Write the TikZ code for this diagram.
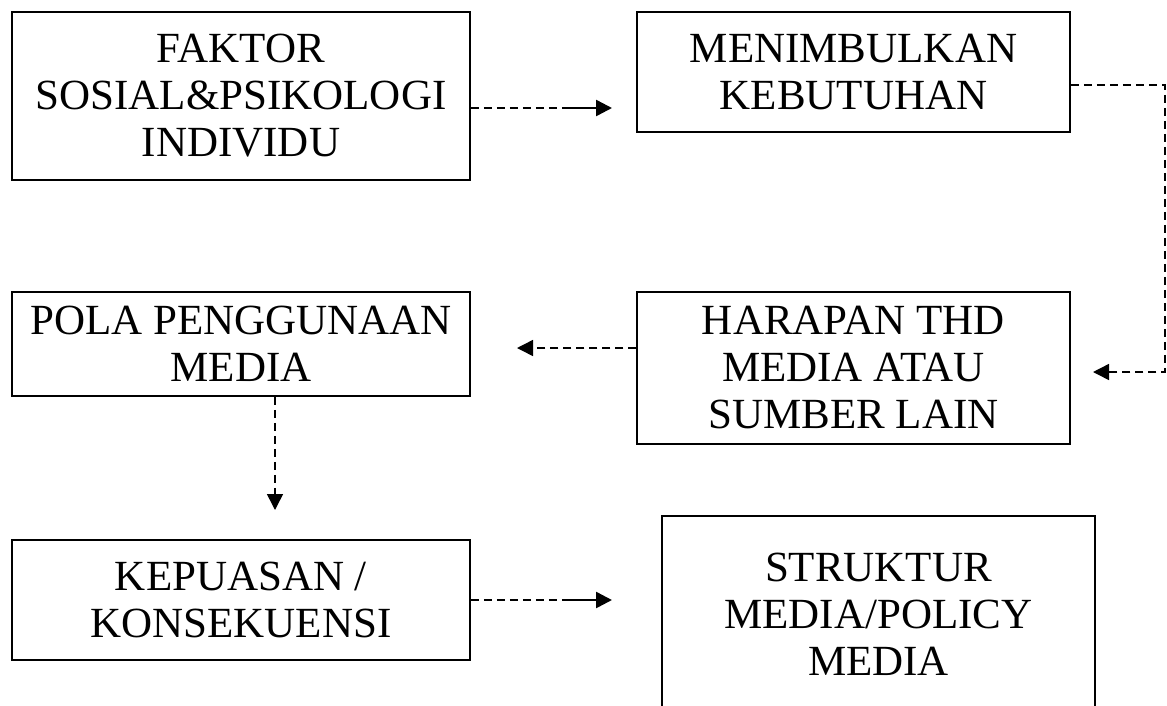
\documentclass[tikz,border=0pt]{standalone}
\usepackage{fontspec}
\setmainfont{Liberation Serif}
\usetikzlibrary{arrows.meta,positioning}

\tikzset{
  box/.style={draw, line width=1.5pt, align=center, inner sep=0pt,
    font=\fontsize{43}{47}\selectfont},
  flow/.style={line width=1.5pt, dash pattern=on 8pt off 5pt},
  head/.style={-{Triangle[length=16pt,width=16pt]}},
  solidhead/.style={line width=2.5pt, head},
}

\begin{document}
\begin{tikzpicture}[x=1pt,y=-1pt]
  \useasboundingbox (0,0) rectangle (1167,705);
  % kotak
  \node[box, minimum width=458pt, minimum height=168pt] (faktor) at (241,96)
    {FAKTOR\\SOSIAL\&PSIKOLOGI\\INDIVIDU};
  \node[box, minimum width=433pt, minimum height=120pt] (kebutuhan) at (853.5,72)
    {MENIMBULKAN\\KEBUTUHAN};
  \node[box, minimum width=458pt, minimum height=104pt] (pola) at (241,344)
    {POLA PENGGUNAAN\\MEDIA};
  \node[box, minimum width=433pt, minimum height=152pt] (harapan) at (853.5,368)
    {HARAPAN THD\\MEDIA ATAU\\SUMBER LAIN};
  \node[box, minimum width=458pt, minimum height=120pt] (kepuasan) at (241,600)
    {KEPUASAN /\\KONSEKUENSI};
  \node[box, minimum width=433pt, minimum height=196pt] (struktur) at (878.5,614)
    {STRUKTUR\\MEDIA/POLICY\\MEDIA};
  % ujung panah
  \coordinate (p1) at (565,108);
  \coordinate (q1) at (612,108);
  \coordinate (sudut) at (1165,372);
  \coordinate (q2) at (1093,372);
  \coordinate (q3) at (517,348);
  \coordinate (q4) at (275,510);
  \coordinate (p5) at (565,600);
  \coordinate (q5) at (612,600);
  % panah
  \draw[flow] ([yshift=-12pt]faktor.east) -- (p1);
  \draw[solidhead] (p1) -- (q1);
  \draw[flow, head] ([yshift=-13pt]kebutuhan.east) -| (sudut) -- (q2);
  \draw[flow, head] ([yshift=20pt]harapan.west) -- (q3);
  \draw[flow, head] ([xshift=34pt]pola.south) -- (q4);
  \draw[flow] (kepuasan.east) -- (p5);
  \draw[solidhead] (p5) -- (q5);
\end{tikzpicture}
\end{document}
